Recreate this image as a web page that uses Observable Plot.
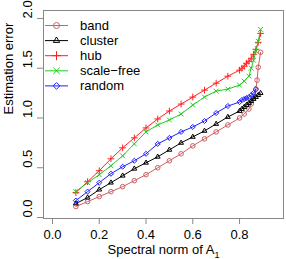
<!DOCTYPE html>
<html><head><meta charset="utf-8">
<script src="https://cdn.jsdelivr.net/npm/d3@7"></script>
<script src="https://cdn.jsdelivr.net/npm/@observablehq/plot@0.6"></script>
<style>body{margin:0;background:#fff} svg{display:block}</style>
</head><body><div id="chart"></div>
<script>
const seriesNames = ["band", "cluster", "hub", "scale\u2212free", "random"];
const seriesColors = ["#cd6060", "#000000", "#ff2020", "#22cc22", "#2020ff"];
const seriesSymbols = ["circle", "triangle2", "plus", "times", "diamond2"];

const bandX = [0.1,0.15,0.2,0.25,0.3,0.35,0.4,0.45,0.5,0.55,0.6,0.65,0.7,0.75,0.8,0.82,0.84,0.85,0.86,0.87,0.875,0.88,0.89];
const bandY = [0.11,0.16,0.21,0.26,0.31,0.37,0.43,0.50,0.57,0.64,0.72,0.79,0.86,0.93,1.00,1.04,1.09,1.14,1.21,1.29,1.38,1.51,1.66];

const clusterX = [0.1,0.15,0.2,0.25,0.3,0.35,0.4,0.45,0.5,0.55,0.6,0.65,0.7,0.75,0.8,0.81,0.82,0.83,0.84,0.85,0.86,0.87,0.88,0.89];
const clusterY = [0.14,0.20,0.28,0.35,0.42,0.49,0.55,0.61,0.68,0.75,0.81,0.87,0.94,1.01,1.07,1.09,1.11,1.13,1.15,1.17,1.19,1.21,1.23,1.25];

const hubX = [0.1,0.15,0.2,0.25,0.3,0.35,0.4,0.45,0.5,0.55,0.6,0.65,0.7,0.75,0.8,0.81,0.82,0.83,0.84,0.85,0.86,0.87,0.88,0.89];
const hubY = [0.25,0.36,0.47,0.59,0.70,0.80,0.90,0.99,1.07,1.14,1.21,1.28,1.35,1.42,1.48,1.50,1.52,1.55,1.57,1.60,1.64,1.69,1.76,1.85];

const scaleFreeX = [0.1,0.15,0.2,0.25,0.3,0.35,0.4,0.45,0.5,0.55,0.6,0.65,0.7,0.75,0.8,0.82,0.84,0.85,0.86,0.87,0.88,0.89];
const scaleFreeY = [0.26,0.35,0.43,0.52,0.62,0.74,0.86,0.93,0.98,1.04,1.13,1.21,1.27,1.29,1.33,1.37,1.42,1.50,1.58,1.67,1.77,1.89];

const randomX = [0.1,0.15,0.2,0.25,0.3,0.35,0.4,0.45,0.5,0.55,0.6,0.65,0.7,0.75,0.8,0.81,0.82,0.83,0.84,0.85,0.86,0.87];
const randomY = [0.17,0.26,0.35,0.44,0.51,0.57,0.64,0.74,0.80,0.86,0.91,0.97,1.05,1.12,1.16,1.18,1.19,1.20,1.21,1.23,1.25,1.29];

const xTicks = [0, 0.2, 0.4, 0.6, 0.8];
const yTicks = [0, 0.5, 1.0, 1.5, 2.0];
const xTitle = "Spectral norm of A";
const xTitleSub = "1";
const yTitle = "Estimation error";

const allX = [bandX, clusterX, hubX, scaleFreeX, randomX];
const allY = [bandY, clusterY, hubY, scaleFreeY, randomY];
const seriesData = seriesNames.map((name, i) =>
  allX[i].map((x, j) => ({series: name, x, y: allY[i][j]})));

const dotR = 2.3;
const font = "'Liberation Sans', Arial, Helvetica, sans-serif";

function legendMark(index, scales, values, dims) {
  const g = d3.create("svg:g").attr("font-family", font).attr("font-size", 13)
    .attr("text-anchor", "start");
  const left = dims.marginLeft, top = dims.marginTop;
  seriesNames.forEach((name, i) => {
    const y = top + 15.5 + i * 15.1;
    g.append("line").attr("x1", left + 2).attr("x2", left + 25).attr("y1", y).attr("y2", y)
      .attr("stroke", seriesColors[i]).attr("stroke-width", 1);
    const type = {circle: d3.symbolCircle, triangle2: d3.symbolTriangle2, plus: d3.symbolPlus,
                  times: d3.symbolTimes, diamond2: d3.symbolDiamond2}[seriesSymbols[i]];
    g.append("path").attr("d", d3.symbol(type, Math.PI * 3 * 3)())
      .attr("transform", `translate(${left + 13.5},${y})`)
      .attr("fill", "none").attr("stroke", seriesColors[i]).attr("stroke-width", 1);
    g.append("text").attr("x", left + 37).attr("y", y).attr("dy", "0.35em")
      .attr("text-anchor", "start").attr("fill", "#000").text(name);
  });
  return g.node();
}

const marks = [
  Plot.frame({stroke: "#888"}),
  Plot.axisX({ticks: xTicks, tickFormat: d3.format(".1f"), tickSize: 6, tickPadding: 5,
              stroke: "#888", fill: "#000", fontSize: 13, label: null}),
  Plot.axisY({ticks: yTicks, tickSize: 6, tickFormat: () => "", stroke: "#888", label: null}),
  Plot.text(yTicks, {y: d => d, frameAnchor: "left", text: d3.format(".1f"), rotate: -90,
                     dx: -16, fontSize: 13, fill: "#000"}),
  Plot.text([yTitle], {frameAnchor: "left", rotate: -90, dx: -35, fontSize: 13, fill: "#000"}),
  Plot.text([xTitle + xTitleSub], {frameAnchor: "bottom", dy: 35, fontSize: 13, fill: "#000"}),
];
seriesData.forEach((rows, i) => {
  marks.push(Plot.line(rows, {x: "x", y: "y", stroke: seriesColors[i], strokeWidth: 1}));
  marks.push(Plot.dot(rows, {x: "x", y: "y", stroke: seriesColors[i], symbol: seriesSymbols[i],
                             r: dotR, strokeWidth: 1, fill: "none"}));
});
marks.push(legendMark);

const chart = Plot.plot({
  width: 286, height: 259,
  marginLeft: 43, marginRight: 3, marginTop: 10, marginBottom: 41,
  style: {fontFamily: font, background: "#fff", color: "#000"},
  x: {domain: [-0.0385, 0.988]},
  y: {domain: [-0.01, 2.08]},
  marks
});
// subscript for the x title
for (const t of chart.querySelectorAll("text")) {
  if (t.textContent === xTitle + xTitleSub) {
    t.textContent = xTitle;
    const ts = document.createElementNS("http://www.w3.org/2000/svg", "tspan");
    ts.setAttribute("font-size", "9");
    ts.setAttribute("dy", "4");
    ts.textContent = xTitleSub;
    t.appendChild(ts);
  }
}
document.getElementById("chart").appendChild(chart);
</script>
</body></html>
